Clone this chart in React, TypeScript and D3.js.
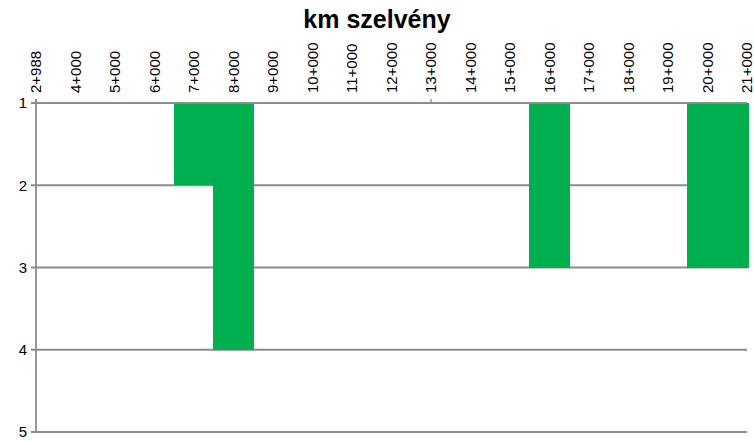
import React from "react";
import * as d3 from "d3";

// méretek
const WIDTH = 754;
const HEIGHT = 441;
const margin = { top: 103, right: 7, bottom: 9, left: 36 };

// adatok
const kmLabels: string[] = [
  "2+988", "4+000", "5+000", "6+000", "7+000", "8+000", "9+000", "10+000",
  "11+000", "12+000", "13+000", "14+000", "15+000", "16+000", "17+000",
  "18+000", "19+000", "20+000", "21+000",
];
const classValues: number[] = [1, 1, 1, 1, 2, 4, 1, 1, 1, 1, 1, 1, 1, 3, 1, 1, 1, 3, 3];
const yTicks: number[] = [1, 2, 3, 4, 5];
const tickedLabels: string[] = ["2+988", "13+000"];

const App: React.FC = () => {
  const innerW = WIDTH - margin.left - margin.right;
  const innerH = HEIGHT - margin.top - margin.bottom;

  const x = d3.scalePoint<string>().domain(kmLabels).range([0, innerW]);
  const step = x.step();
  const y = d3.scaleLinear().domain([1, 5]).range([0, innerH]);

  return (
    <svg
      width={WIDTH}
      height={HEIGHT}
      style={{ position: "absolute", left: 0, top: 0, background: "#fff" }}
      fontFamily="'Liberation Sans', Arial, sans-serif"
    >
      <defs>
        <clipPath id="plot-clip">
          <rect x={0} y={-2} width={innerW + 2} height={innerH + 4} />
        </clipPath>
      </defs>
      <text x={377} y={28} textAnchor="middle" fontSize={25} fontWeight="bold" fill="#000">
        km szelvény
      </text>
      <g transform={`translate(${margin.left},${margin.top})`}>
        {/* rácsvonalak */}
        {yTicks.map((t) => (
          <g key={t}>
            <line x1={-5} x2={innerW} y1={y(t)} y2={y(t)} stroke="#8c8c8c" strokeWidth={1.8} />
            <text x={-9} y={y(t)} dy="0.35em" textAnchor="end" fontSize={15} fill="#000">
              {t}
            </text>
          </g>
        ))}
        {/* oszlopok */}
        <g clipPath="url(#plot-clip)" shapeRendering="crispEdges">
          {kmLabels.map((k, i) =>
            classValues[i] > 1 ? (
              <rect
                key={k}
                x={Math.floor((x(k) ?? 0) - step / 2)}
                y={y(1)}
                width={Math.ceil(step) + 1}
                height={y(classValues[i]) - y(1)}
                fill="#00b050"
              />
            ) : null
          )}
        </g>
        {/* tengelyek */}
        <line x1={0} x2={0} y1={-4} y2={innerH} stroke="#8c8c8c" strokeWidth={1.8} />
        <line x1={0} x2={innerW} y1={0} y2={0} stroke="#8c8c8c" strokeWidth={1.8} />
        {tickedLabels.map((k) => (
          <line key={k} x1={x(k)} x2={x(k)} y1={-4} y2={0} stroke="#8c8c8c" strokeWidth={1.4} />
        ))}
        {kmLabels.map((k) => (
          <text
            key={k}
            transform={`translate(${x(k) ?? 0},${-10}) rotate(-90)`}
            dy="0.35em"
            textAnchor="start"
            fontSize={15}
            fill="#000"
          >
            {k}
          </text>
        ))}
      </g>
    </svg>
  );
};

export default App;
